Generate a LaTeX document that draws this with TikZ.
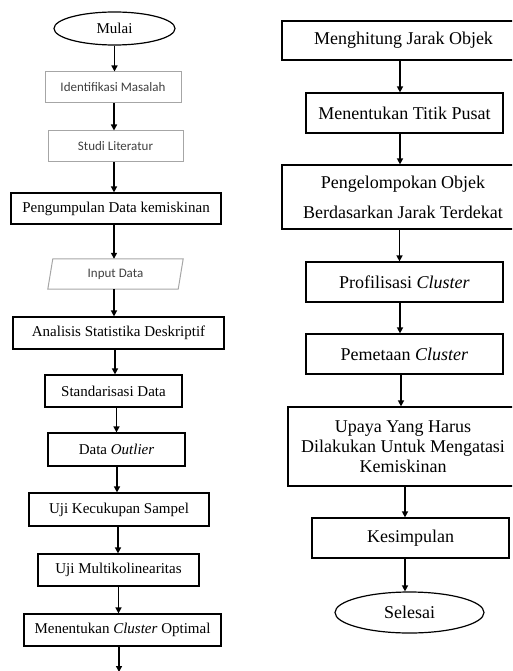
\documentclass[tikz,border=0pt]{standalone}
\usepackage{fontspec}
\setmainfont{Liberation Serif}
\newfontfamily\sansf{Carlito}
\usetikzlibrary{shapes.geometric,arrows.meta}
\tikzset{
  box/.style={draw=black, line width=1.2pt, rectangle, inner sep=0pt, align=center},
  lbox/.style={box, font=\fontsize{15}{17}\selectfont},
  rbox/.style={box, font=\fontsize{18}{20}\selectfont},
  gbox/.style={draw=gray!70, line width=1pt, rectangle, inner sep=0pt, text=black!75, font=\sansf\fontsize{13}{15}\selectfont},
  term/.style={draw=black, line width=1.2pt, ellipse, inner sep=0pt},
  arr/.style={line width=1.4pt, -{Triangle[length=6pt,width=6pt]}}
}
\begin{document}
\begin{tikzpicture}[x=1pt,y=-1pt]
\useasboundingbox (0,0) rectangle (512,671);
\clip (0,0) rectangle (512,671);
% left column
\node[term, minimum width=121pt, minimum height=33pt, font=\fontsize{15}{17}\selectfont] (mulai) at (114.5,28.5) {Mulai};
\node[gbox, minimum width=136pt, minimum height=31pt] (ident) at (113,87.5) {Identifikasi Masalah};
\node[gbox, minimum width=135pt, minimum height=31pt] (studi) at (115.5,146.5) {Studi Literatur};
\node[lbox, minimum width=210pt, minimum height=31pt] (kumpul) at (116,208.5) {Pengumpulan Data kemiskinan};
\node[rectangle, inner sep=0pt, minimum width=130pt, minimum height=30pt, text=black!75, font=\sansf\fontsize{13}{15}\selectfont] (input) at (115.5,274) {Input Data};
\draw[draw=gray!70, line width=1pt] ([xshift=2.5pt]input.north west) -- ([xshift=2.5pt]input.north east) -- ([xshift=-2.5pt]input.south east) -- ([xshift=-2.5pt]input.south west) -- cycle;
\node[lbox, minimum width=211pt, minimum height=32pt] (analisis) at (118.5,333) {Analisis Statistika Deskriptif};
\node[lbox, minimum width=137pt, minimum height=32pt] (standar) at (113.5,391) {Standarisasi Data};
\node[lbox, minimum width=137pt, minimum height=33pt] (outlier) at (116.5,449.5) {Data \textit{Outlier}};
\node[lbox, minimum width=180pt, minimum height=33pt] (kecukupan) at (119,509.5) {Uji Kecukupan Sampel};
\node[lbox, minimum width=161pt, minimum height=32pt] (multi) at (118.5,570) {Uji Multikolinearitas};
\node[lbox, minimum width=197pt, minimum height=32pt] (optimal) at (122.5,630) {Menentukan \textit{Cluster} Optimal};
\coordinate (lend) at (119,671);
% left arrows
\draw[arr] (mulai.south) -- (mulai.south |- ident.north);
\draw[arr] ([xshift=1pt]ident.south) -- ([xshift=1pt]ident.south |- studi.north);
\draw[arr] ([xshift=-1.5pt]studi.south) -- ([xshift=-1.5pt]studi.south |- kumpul.north);
\draw[arr] ([xshift=-2pt]kumpul.south) -- ([xshift=-2pt]kumpul.south |- input.north);
\draw[arr] ([xshift=-1.5pt]input.south) -- ([xshift=-1.5pt]input.south |- analisis.north);
\draw[arr] ([xshift=-3.5pt]analisis.south) -- ([xshift=-3.5pt]analisis.south |- standar.north);
\draw[arr] ([xshift=3pt]standar.south) -- ([xshift=3pt]standar.south |- outlier.north);
\draw[arr] ([xshift=0.5pt]outlier.south) -- ([xshift=0.5pt]outlier.south |- kecukupan.north);
\draw[arr] ([xshift=-1pt]kecukupan.south) -- ([xshift=-1pt]kecukupan.south |- multi.north);
\draw[arr] (multi.south) -- (multi.south |- optimal.north);
\draw[arr] (optimal.south -| lend) -- ([yshift=-1pt]lend);
% right column
\node[rbox, minimum width=243pt, minimum height=39pt] (hitung) at (403.5,40.5) {Menghitung Jarak Objek};
\node[rbox, minimum width=197pt, minimum height=40pt] (pusat) at (404.5,113) {Menentukan Titik Pusat};
\node[rbox, minimum width=242pt, minimum height=64pt, font=\fontsize{18}{30}\selectfont] (kelompok) at (403,197) {Pengelompokan Objek\\Berdasarkan Jarak Terdekat};
\node[rbox, minimum width=197pt, minimum height=40pt] (profil) at (404.5,282) {Profilisasi \textit{Cluster}};
\node[rbox, minimum width=197pt, minimum height=40pt] (pemetaan) at (404.5,354) {Pemetaan \textit{Cluster}};
\node[rbox, minimum width=230pt, minimum height=79pt] (upaya) at (403,446.5) {Upaya Yang Harus\\Dilakukan Untuk Mengatasi\\Kemiskinan};
\node[rbox, minimum width=197pt, minimum height=40pt] (kesimpulan) at (410.5,538) {Kesimpulan};
\node[term, minimum width=149pt, minimum height=41pt, font=\fontsize{18}{20}\selectfont] (selesai) at (409.5,612.5) {Selesai};
% right arrows
\draw[arr] ([xshift=-3.5pt]hitung.south) -- ([xshift=-3.5pt]hitung.south |- pusat.north);
\draw[arr] ([xshift=-4.5pt]pusat.south) -- ([xshift=-4.5pt]pusat.south |- kelompok.north);
\draw[arr] ([xshift=-3.5pt]kelompok.south) -- ([xshift=-3.5pt]kelompok.south |- profil.north);
\draw[arr] ([xshift=-4.5pt]profil.south) -- ([xshift=-4.5pt]profil.south |- pemetaan.north);
\draw[arr] ([xshift=-3.5pt]pemetaan.south) -- ([xshift=-3.5pt]pemetaan.south |- upaya.north);
\draw[arr] ([xshift=2pt]upaya.south) -- ([xshift=2pt]upaya.south |- kesimpulan.north);
\draw[arr] ([xshift=-5.5pt]kesimpulan.south) -- ([xshift=-5.5pt]kesimpulan.south |- selesai.north);
\end{tikzpicture}
\end{document}
